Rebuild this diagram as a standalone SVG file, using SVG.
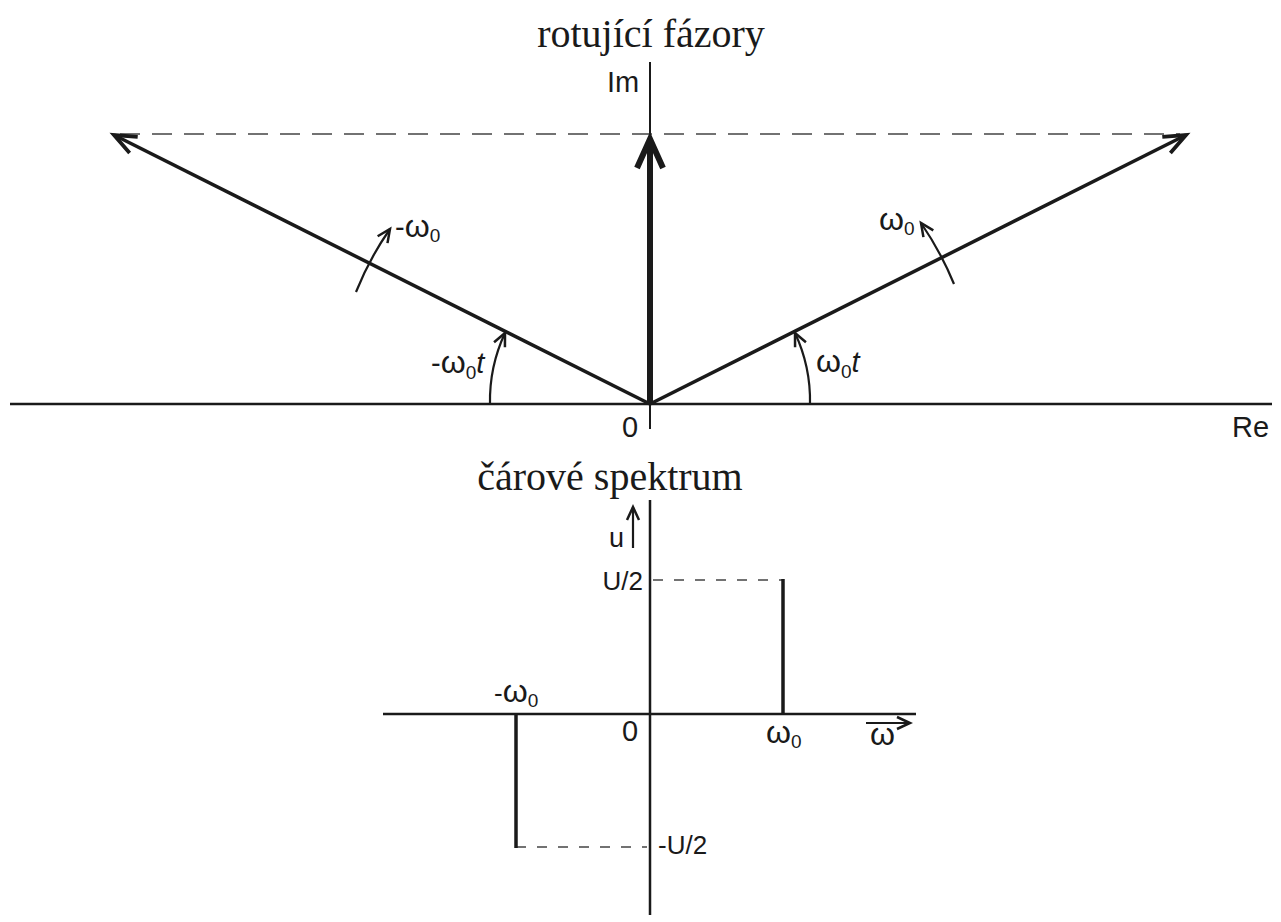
<svg xmlns="http://www.w3.org/2000/svg" width="1281" height="922" viewBox="0 0 1281 922">
<style>
.ax{stroke:#1a1a1a;fill:none}
.ph{stroke:#1a1a1a;stroke-width:3.5;fill:none}
.arc{stroke:#1a1a1a;stroke-width:2.2;fill:none}
.dash{stroke:#444;stroke-width:1.5;fill:none}
.lbl{font-family:"Liberation Sans",Arial,sans-serif;font-size:29px;fill:#1a1a1a}
.lb2{font-family:"Liberation Sans",Arial,sans-serif;font-size:26px;fill:#1a1a1a}
.w{font-size:32px}
.sub{font-size:19px}
.ttl{font-family:"Liberation Serif","Times New Roman",serif;font-size:40px;fill:#1a1a1a}
</style>
<defs>
<marker id="big" markerUnits="userSpaceOnUse" orient="auto" markerWidth="40" markerHeight="40" refX="0" refY="0" viewBox="-30 -15 40 30" overflow="visible">
<path d="M-22,-9 L0,0 L-22,9" fill="none" stroke="#1a1a1a" stroke-width="3.8" stroke-linejoin="miter" stroke-miterlimit="10"/>
</marker>
<marker id="sm" markerUnits="userSpaceOnUse" orient="auto" markerWidth="30" markerHeight="30" refX="0" refY="0" viewBox="-20 -10 30 20" overflow="visible">
<path d="M-13,-6 L0,0 L-13,6" fill="none" stroke="#1a1a1a" stroke-width="2.5" stroke-linejoin="miter" stroke-miterlimit="10"/>
</marker>
</defs>

<text class="ttl" x="651" y="47" text-anchor="middle">rotující fázory</text>

<g id="top-axes">
<line class="ax" x1="10" y1="404" x2="1272" y2="404" stroke-width="2.5"/>
<line class="ax" x1="650" y1="62" x2="650" y2="429" stroke-width="2"/>
<text class="lbl" x="607" y="92">Im</text>
<text class="lbl" x="622" y="437">0</text>
<text class="lbl" x="1232" y="437">Re</text>
</g>

<g id="connectors">
<line class="dash" x1="120" y1="134" x2="1180" y2="134" stroke-dasharray="20 12"/>
<line class="ph" x1="650" y1="404" x2="114" y2="135" marker-end="url(#big)"/>
<line class="ph" x1="650" y1="404" x2="1186" y2="135" marker-end="url(#big)"/>
<line x1="650" y1="404" x2="650" y2="142" stroke="#1a1a1a" stroke-width="6"/>
<path d="M637,168 L650,139 L663,168" fill="none" stroke="#1a1a1a" stroke-width="6" stroke-linejoin="miter"/>
<path class="arc" d="M810,404 A160,160 0 0 0 795,333" marker-end="url(#sm)"/>
<path class="arc" d="M490,404 A160,160 0 0 1 505,333" marker-end="url(#sm)"/>
<path class="arc" d="M954,284 A326,326 0 0 0 921,223" marker-end="url(#sm)"/>
<path class="arc" d="M356,292 A314,314 0 0 1 390,229" marker-end="url(#sm)"/>
</g>

<g id="label-neg-w0">
<text class="lbl" x="395" y="237">-<tspan class="w">ω</tspan><tspan class="sub" dy="5">0</tspan></text>
</g>
<g id="label-w0">
<text class="lbl" x="879" y="230"><tspan class="w">ω</tspan><tspan class="sub" dy="5">0</tspan></text>
</g>
<g id="label-neg-w0t">
<text class="lbl" x="431" y="373">-<tspan class="w">ω</tspan><tspan class="sub" dy="6">0</tspan><tspan dy="-6" font-style="italic">t</tspan></text>
</g>
<g id="label-w0t">
<text class="lbl" x="816" y="372"><tspan class="w">ω</tspan><tspan class="sub" dy="6">0</tspan><tspan dy="-6" font-style="italic">t</tspan></text>
</g>

<text class="ttl" x="610" y="490" text-anchor="middle">čárové spektrum</text>

<g id="spectrum">
<line class="ax" x1="650" y1="500" x2="650" y2="915" stroke-width="2.5"/>
<line class="ax" x1="383" y1="714" x2="916" y2="714" stroke-width="2.5"/>
<line class="dash" x1="653" y1="580" x2="783" y2="580" stroke-dasharray="10 11"/>
<line class="dash" x1="516" y1="847" x2="647" y2="847" stroke-dasharray="10 11"/>
<line x1="783" y1="579" x2="783" y2="714" stroke="#1a1a1a" stroke-width="3.5"/>
<line x1="516" y1="714" x2="516" y2="848" stroke="#1a1a1a" stroke-width="3.5"/>
<line class="arc" x1="633" y1="548" x2="633" y2="507" marker-end="url(#sm)"/>
<line class="arc" x1="866" y1="723" x2="910" y2="723" marker-end="url(#sm)"/>
<text class="lb2" x="609" y="547" style="font-size:27px">u</text>
<text class="lb2" x="643" y="590" text-anchor="end">U/2</text>
<text class="lb2" x="658" y="854">-U/2</text>
<text class="lb2" x="494" y="702">-<tspan class="w">ω</tspan><tspan class="sub" dy="5">0</tspan></text>
<text class="lbl" x="622" y="741">0</text>
<text class="lb2" x="766" y="743"><tspan class="w">ω</tspan><tspan class="sub" dy="5">0</tspan></text>
<text class="lb2" x="870" y="745"><tspan class="w">ω</tspan></text>
</g>
</svg>
